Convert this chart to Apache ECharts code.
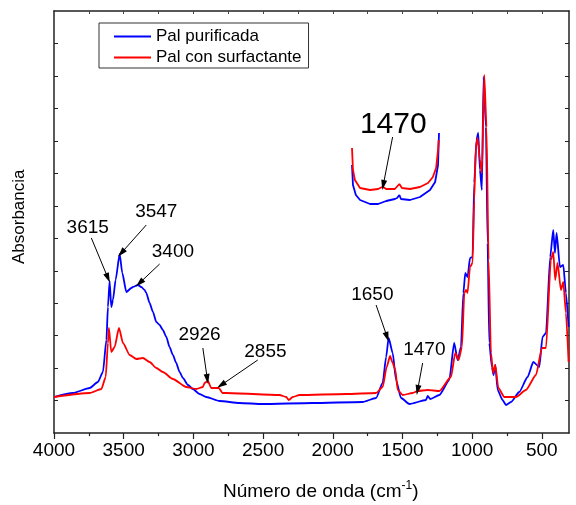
<!DOCTYPE html>
<html lang="es">
<head>
<meta charset="UTF-8">
<title>FTIR Pal</title>
<script src="https://cdn.jsdelivr.net/npm/echarts@6/dist/echarts.min.js"></script>
<style>
  html, body { margin: 0; padding: 0; background: #fff; }
  #chart { width: 576px; height: 505px; }
</style>
</head>
<body>
<div id="chart"></div>
<script>
  // espectro principal (número de onda, absorbancia en u.a.)
  const wnBlue = [4000, 3864, 3744, 3685, 3649, 3624, 3613, 3601, 3589, 3577, 3558, 3529, 3510, 3481, 3445, 3434, 3398, 3374, 3350, 3338, 3314, 3290, 3266, 3242, 3219, 3194, 3171, 3147, 3123, 3099, 3075, 3039, 3004, 2956, 2908, 2812, 2669, 2504, 2146, 1787, 1689, 1642, 1617, 1599, 1570, 1546, 1510, 1450, 1331, 1319, 1300, 1235, 1164, 1129, 1104, 1080, 1063, 1049, 1033, 1015, 997, 985, 969, 956, 944, 930, 918, 901, 889, 877, 858, 846, 834, 817, 782, 757, 721, 662, 602, 561, 518, 495, 470, 440, 418, 406, 394, 370, 346, 327, 308];
  const absBlue = [36, 40, 45, 51, 61, 93, 126, 152, 126, 133, 153, 179, 160, 141, 145, 146, 148, 146, 143, 140, 130, 121, 111, 108, 103, 96, 86, 78, 70, 61, 55, 48, 44, 39, 36, 32, 30, 29, 30, 31, 35, 50, 76, 95, 80, 53, 35, 29, 33, 37, 34, 38, 53, 90, 73, 86, 140, 160, 156, 175, 176, 250, 293, 300, 263, 243, 356, 306, 190, 90, 66, 58, 68, 43, 33, 28, 31, 41, 56, 71, 66, 96, 100, 176, 203, 180, 200, 166, 168, 140, 106];

  const wnRed = [4000, 3744, 3660, 3629, 3613, 3606, 3589, 3565, 3534, 3505, 3457, 3409, 3362, 3314, 3266, 3219, 3147, 3051, 2979, 2932, 2920, 2896, 2872, 2848, 2817, 2791, 2764, 2382, 2334, 2316, 2287, 2239, 1904, 1689, 1642, 1613, 1589, 1570, 1551, 1534, 1498, 1427, 1391, 1319, 1235, 1152, 1121, 1097, 1073, 1056, 1044, 1033, 1015, 997, 985, 973, 961, 944, 930, 913, 897, 882, 865, 849, 834, 812, 769, 685, 614, 542, 499, 470, 435, 418, 404, 387, 363, 346, 327, 308];
  const absRed = [36, 40, 44, 56, 90, 105, 81, 86, 105, 90, 78, 74, 75, 71, 65, 61, 54, 46, 44, 46, 50, 52, 45, 45, 45, 40, 40, 38, 36, 33, 36, 38, 39, 40, 46, 66, 77, 70, 63, 43, 38, 40, 42, 43, 42, 56, 80, 73, 86, 140, 143, 140, 166, 170, 233, 286, 295, 273, 260, 358, 306, 173, 80, 60, 68, 45, 36, 36, 43, 58, 85, 85, 173, 181, 153, 170, 143, 151, 120, 71];

  // ampliación de la zona 1560-1290 cm-1
  const wnInsetBlue = [1560, 1557, 1548, 1535, 1504, 1479, 1454, 1427, 1420, 1413, 1408, 1380, 1349, 1318, 1302, 1293, 1290];
  const absInsetBlue = [45, 25, 15, 10, 6, 6, 9, 11, 12, 15, 11, 10, 13, 20, 28, 45, 77];
  const wnInsetRed = [1560, 1557, 1551, 1535, 1504, 1479, 1465, 1454, 1427, 1413, 1405, 1380, 1349, 1324, 1309, 1299, 1293, 1291];
  const absInsetRed = [62, 40, 30, 22, 20, 21, 23.3, 21, 21, 26, 22, 21, 23, 27, 33, 42, 60, 70];

  const xMajor = [4000, 3500, 3000, 2500, 2000, 1500, 1000, 500];
  const xMinor = [3750, 3250, 2750, 2250, 1750, 1250, 750];
  const xTop = [3750, 3500, 3250, 3000, 2750, 2500, 2250, 2000, 1750, 1500, 1250, 1000, 750, 500];
  const yTicks = [33, 65, 98, 130, 162, 195, 227, 260, 292, 325, 357, 390];

  // anotaciones: texto, posición del texto, flecha (inicio -> fin)
  const peakNames = ['3615', '3547', '3400', '2926', '2855', '1650', '1470'];
  const peakTextPos = [[3758, 205], [3266, 221], [3147, 181], [2956, 98], [2483, 81], [1716, 138], [1343, 83]];
  const arrowFrom = [[3732, 195], [3338, 208], [3242, 169], [2932, 85], [2538, 73], [1689, 128], [1355, 70]];
  const arrowTo = [[3613, 155], [3517, 180], [3386, 150], [2900, 54], [2800, 48], [1610, 96], [1391, 43]];
  const insetName = '1470';
  const insetTextPos = [1432, 85];
  const insetArrow = [[1434, 73], [1463, 25]];

  const zip = (xs, ys) => xs.map((x, i) => [x, ys[i]]);
  const FONT = 'Liberation Sans';
  const arrowStyle = {
    symbol: ['none', 'triangle'],
    symbolSize: [6, 10],
    silent: true,
    animation: false,
    label: { show: false },
    lineStyle: { color: '#000', width: 1, type: 'solid' },
    emphasis: { disabled: true }
  };

  const chart = echarts.init(document.getElementById('chart'));
  chart.setOption({
    animation: false,
    backgroundColor: '#fff',
    textStyle: { fontFamily: FONT },
    legend: {
      data: ['Pal purificada', 'Pal con surfactante'],
      orient: 'vertical',
      left: 99,
      top: 23,
      icon: 'rect',
      itemWidth: 37,
      itemHeight: 2,
      itemGap: 2,
      padding: [4, 7, 1, 15],
      borderColor: '#333',
      borderWidth: 1,
      textStyle: { fontSize: 17, color: '#000', fontFamily: FONT, lineHeight: 19 }
    },
    grid: [
      { left: 54, right: 7, top: 11, bottom: 72 },
      { left: 352, width: 87, top: 105, height: 105 }
    ],
    xAxis: [
      {
        type: 'value', gridIndex: 0, inverse: true, min: 305, max: 4000,
        axisLine: { lineStyle: { color: '#222', width: 1.5 } },
        axisTick: { customValues: xMajor, length: 6, lineStyle: { color: '#222', width: 1.2 } },
        axisLabel: { customValues: xMajor, formatter: v => String(v), fontSize: 19, color: '#000', margin: 8, fontFamily: FONT },
        splitLine: { show: false }
      },
      {
        type: 'value', gridIndex: 0, inverse: true, min: 305, max: 4000, position: 'bottom',
        axisLine: { show: false },
        axisTick: { customValues: xMinor, length: 3, lineStyle: { color: '#222', width: 1.2 } },
        axisLabel: { show: false },
        splitLine: { show: false }
      },
      {
        type: 'value', gridIndex: 0, inverse: true, min: 305, max: 4000, position: 'top',
        axisLine: { lineStyle: { color: '#222', width: 1.5 } },
        axisTick: { customValues: xTop, inside: true, length: 3, lineStyle: { color: '#444' } },
        axisLabel: { show: false },
        splitLine: { show: false }
      },
      {
        type: 'value', gridIndex: 1, inverse: true, min: 1290, max: 1560, show: false
      }
    ],
    yAxis: [
      {
        type: 'value', gridIndex: 0, min: 0, max: 422,
        axisLine: { show: true, lineStyle: { color: '#222', width: 1.5 } },
        axisTick: { customValues: yTicks, inside: true, length: 4, lineStyle: { color: '#222' } },
        axisLabel: { show: false },
        splitLine: { show: false }
      },
      {
        type: 'value', gridIndex: 0, min: 0, max: 422, position: 'right',
        axisLine: { show: true, lineStyle: { color: '#222', width: 1.5 } },
        axisTick: { customValues: yTicks, inside: true, length: 4, lineStyle: { color: '#222' } },
        axisLabel: { show: false },
        splitLine: { show: false }
      },
      { type: 'value', gridIndex: 1, min: 0, max: 105, show: false }
    ],
    graphic: [
      {
        type: 'text', left: 223, top: 480, z: 10,
        style: {
          text: 'Número de onda (cm{sup|-1})',
          fontSize: 19, fontFamily: FONT, fill: '#000', lineHeight: 24,
          rich: { sup: { fontSize: 12, fontFamily: FONT, verticalAlign: 'top', lineHeight: 24, fill: '#000' } }
        }
      },
      {
        type: 'text', x: 11, y: 264, rotation: Math.PI / 2, z: 10,
        style: { text: 'Absorbancia', fontSize: 17, fontFamily: FONT, fill: '#000' }
      }
    ],
    series: [
      {
        name: 'Pal purificada', type: 'line', xAxisIndex: 0, yAxisIndex: 0,
        data: zip(wnBlue, absBlue), showSymbol: false, symbol: 'none',
        smooth: 0.2, smoothMonotone: 'x',
        lineStyle: { color: '#0000ff', width: 1.8 }, itemStyle: { color: '#0000ff' },
        emphasis: { disabled: true }, z: 2,
        markLine: Object.assign({
          data: arrowFrom.map((p, i) => [{ coord: p }, { coord: arrowTo[i] }])
        }, arrowStyle),
        markPoint: {
          symbol: 'circle', symbolSize: 0, silent: true, animation: false,
          label: { show: true, position: 'inside', formatter: p => p.name, fontSize: 19, color: '#000', fontFamily: FONT },
          data: peakNames.map((n, i) => ({ name: n, coord: peakTextPos[i] }))
        }
      },
      {
        name: 'Pal con surfactante', type: 'line', xAxisIndex: 0, yAxisIndex: 0,
        data: zip(wnRed, absRed), showSymbol: false, symbol: 'none',
        smooth: 0.2, smoothMonotone: 'x',
        lineStyle: { color: '#ff0000', width: 1.8 }, itemStyle: { color: '#ff0000' },
        emphasis: { disabled: true }, z: 3
      },
      {
        name: 'Pal purificada', type: 'line', xAxisIndex: 3, yAxisIndex: 2,
        data: zip(wnInsetBlue, absInsetBlue), showSymbol: false, symbol: 'none',
        lineStyle: { color: '#0000ff', width: 1.8 }, emphasis: { disabled: true }, z: 2
      },
      {
        name: 'Pal con surfactante', type: 'line', xAxisIndex: 3, yAxisIndex: 2,
        data: zip(wnInsetRed, absInsetRed), showSymbol: false, symbol: 'none',
        lineStyle: { color: '#ff0000', width: 1.8 }, emphasis: { disabled: true }, z: 3,
        markLine: Object.assign({
          data: [[{ coord: insetArrow[0] }, { coord: insetArrow[1] }]]
        }, arrowStyle),
        markPoint: {
          symbol: 'circle', symbolSize: 0, silent: true, animation: false,
          label: { show: true, position: 'inside', formatter: p => p.name, fontSize: 30, color: '#000', fontFamily: FONT },
          data: [{ name: insetName, coord: insetTextPos }]
        }
      }
    ]
  });

  window.addEventListener('resize', () => chart.resize());
</script>
</body>
</html>
